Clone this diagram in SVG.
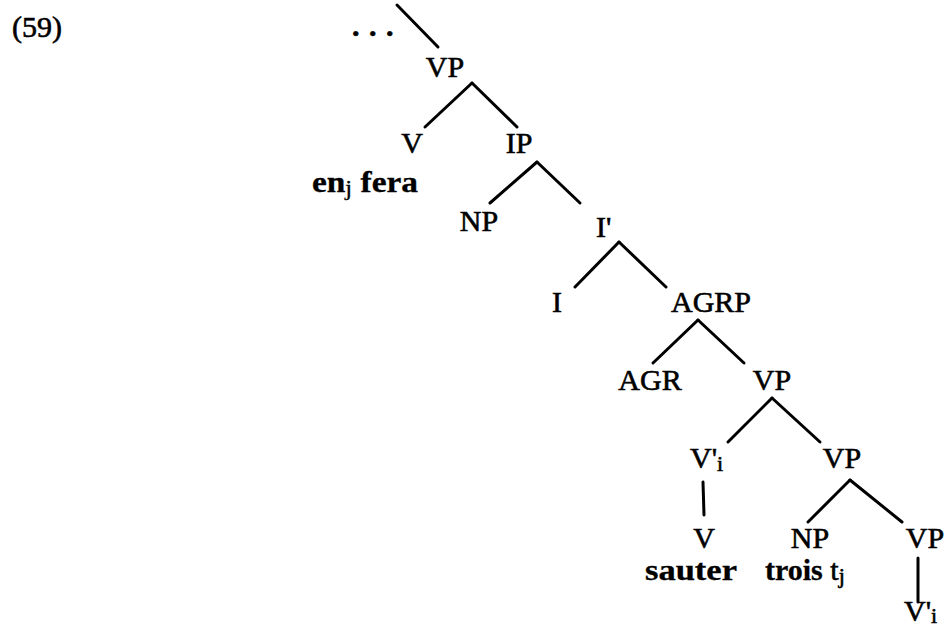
<svg xmlns="http://www.w3.org/2000/svg" width="945" height="629" viewBox="0 0 945 629">
<style>
text{font-family:"Liberation Serif","Times New Roman",serif;font-size:30px;fill:#000;stroke:#000;stroke-width:0.6}
.b{font-weight:bold;stroke-width:0.3}
.sub{font-size:22px}
.e line{stroke:#000;stroke-width:3;stroke-linecap:round}
</style>
<rect width="945" height="629" fill="#fff"/>
<text x="12" y="37">(59)</text>
<g id="dots"><text x="352" y="36" letter-spacing="1" font-weight="bold">. . .</text></g>
<g id="vp1"><text x="445" y="77" text-anchor="middle">VP</text></g>
<g id="v1"><text x="412" y="153" text-anchor="middle">V</text></g>
<g id="enfera"><text x="312" y="192" class="b" textLength="106" lengthAdjust="spacingAndGlyphs">en<tspan class="sub" dy="3" font-weight="normal">j</tspan><tspan dy="-3"> fera</tspan></text></g>
<g id="ip"><text x="519" y="153" text-anchor="middle">IP</text></g>
<g id="np1"><text x="479" y="231" text-anchor="middle">NP</text></g>
<g id="ibar"><text x="596" y="237">I'</text></g>
<g id="i"><text x="557" y="312" text-anchor="middle">I</text></g>
<g id="agrp"><text x="711" y="312" text-anchor="middle">AGRP</text></g>
<g id="agr"><text x="650" y="390" text-anchor="middle">AGR</text></g>
<g id="vp2"><text x="772" y="390" text-anchor="middle">VP</text></g>
<g id="vbari1"><text x="690" y="468">V'<tspan class="sub" dy="3">i</tspan></text></g>
<g id="vp3"><text x="842" y="468" text-anchor="middle">VP</text></g>
<g id="v2"><text x="704" y="548" text-anchor="middle">V</text></g>
<g id="sauter"><text x="645" y="580" class="b" textLength="92" lengthAdjust="spacingAndGlyphs">sauter</text></g>
<g id="np2"><text x="810" y="548" text-anchor="middle">NP</text></g>
<g id="trois"><text x="765" y="580"><tspan class="b">trois</tspan> t<tspan class="sub" dy="3">j</tspan></text></g>
<g id="vp4"><text x="925" y="548" text-anchor="middle">VP</text></g>
<g id="vbari2"><text x="904" y="621">V'<tspan class="sub" dy="2">i</tspan></text></g>
<g id="edges" class="e">
<line x1="397" y1="5" x2="438" y2="47"/>
<line x1="472" y1="83" x2="425" y2="127"/>
<line x1="472" y1="83" x2="517" y2="127"/>
<line x1="537" y1="162" x2="490" y2="203"/>
<line x1="537" y1="162" x2="580" y2="203"/>
<line x1="619" y1="242" x2="575" y2="287"/>
<line x1="619" y1="242" x2="666" y2="287"/>
<line x1="698" y1="320" x2="653" y2="363"/>
<line x1="698" y1="320" x2="744" y2="363"/>
<line x1="772" y1="398" x2="728" y2="442"/>
<line x1="772" y1="398" x2="820" y2="442"/>
<line x1="703" y1="482" x2="704" y2="515"/>
<line x1="850" y1="480" x2="808" y2="522"/>
<line x1="850" y1="480" x2="902" y2="522"/>
<line x1="918" y1="558" x2="918" y2="602"/>
</g>
</svg>
